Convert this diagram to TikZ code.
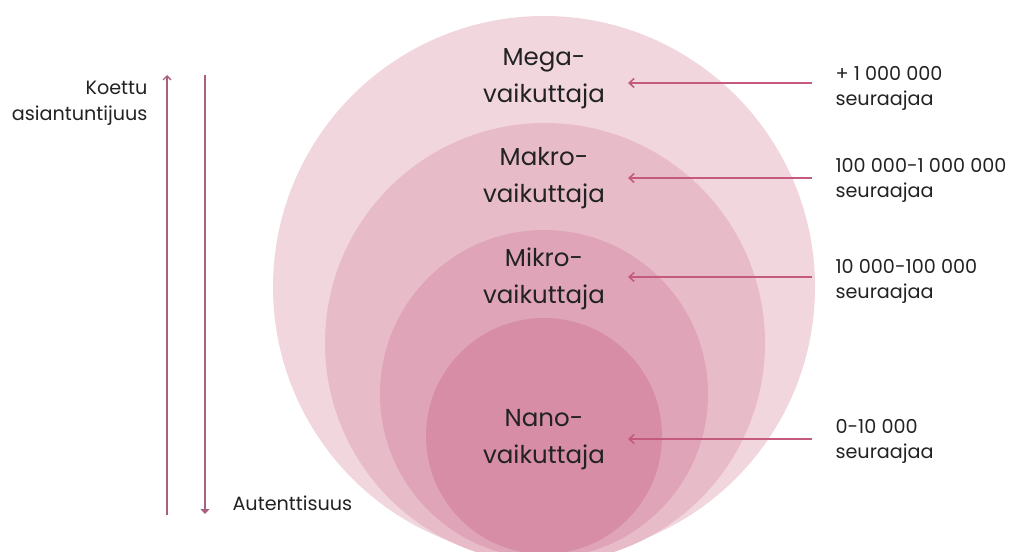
\documentclass[tikz,border=0pt]{standalone}
\usepackage{fontspec}
\setmainfont{Poppins}
\usetikzlibrary{arrows.meta}
\definecolor{ringA}{HTML}{F1D6DE}
\definecolor{ringB}{HTML}{E8BBC9}
\definecolor{ringC}{HTML}{DFA4B7}
\definecolor{ringD}{HTML}{D68DA5}
\definecolor{pointer}{HTML}{C45A7E}
\definecolor{axis}{HTML}{A8607F}
\definecolor{ink}{HTML}{222222}
\begin{document}
\begin{tikzpicture}[x=1pt,y=-1pt,
  ringlabel/.style={font=\fontsize{24.5}{37}\selectfont, text=ink, align=center},
  countlabel/.style={font=\fontsize{19.2}{25}\selectfont, text=ink, align=left, anchor=west},
  axislabel/.style={font=\fontsize{19.2}{26}\selectfont, text=ink},
  pointerline/.style={draw=pointer, line width=2pt, -{Straight Barb[length=5pt,width=9pt,line width=1.6pt]}},
  axisline/.style={draw=axis, line width=1.6pt}]
\useasboundingbox (0,0) rectangle (1011,551);
\clip (0,0) rectangle (1011,551);
% nested circles
\fill[ringA] (544,287) circle (271);
\fill[ringB] (545,343) circle (220);
\fill[ringC] (544,394) circle (164);
\fill[ringD] (544,436) circle (118);
% level labels
\node[ringlabel] (mega) at (544,79) {Mega-\\vaikuttaja};
\node[ringlabel] (makro) at (544,178) {Makro-\\vaikuttaja};
\node[ringlabel] (mikro) at (544,279) {Mikro-\\vaikuttaja};
\node[ringlabel] (nano) at (544,440) {Nano-\\vaikuttaja};
% follower ranges
\node[countlabel] (rmega) at (832,88) {+ 1 000 000\\seuraajaa};
\node[countlabel] (rmakro) at (832,180) {100 000-1 000 000\\seuraajaa};
\node[countlabel] (rmikro) at (832,281) {10 000-100 000\\seuraajaa};
\node[countlabel] (rnano) at (832,441) {0-10 000\\seuraajaa};
% pointers from ranges to levels
\coordinate (tmega) at (628,83);
\coordinate (tmakro) at (628,178);
\coordinate (tmikro) at (628,277);
\coordinate (tnano) at (628,439);
\draw[pointerline] (812,83) -- (tmega);
\draw[pointerline] (812,178) -- (tmakro);
\draw[pointerline] (812,277) -- (tmikro);
\draw[pointerline] (812,439) -- (tnano);
% side axes
\coordinate (upbot) at (167,515);
\coordinate (uptop) at (167,75);
\coordinate (dntop) at (205,75);
\coordinate (dnbot) at (205,514);
\draw[axisline, -{Straight Barb[length=4pt,width=8pt,line width=1.4pt]}] (upbot) -- (uptop);
\draw[axisline, -{Triangle[length=5pt,width=9pt]}] (dntop) -- (dnbot);
\node[axislabel, align=right, anchor=east] (expert) at (151,103) {Koettu\\asiantuntijuus};
\node[axislabel, anchor=west] (auth) at (229,503) {Autenttisuus};
\end{tikzpicture}
\end{document}
